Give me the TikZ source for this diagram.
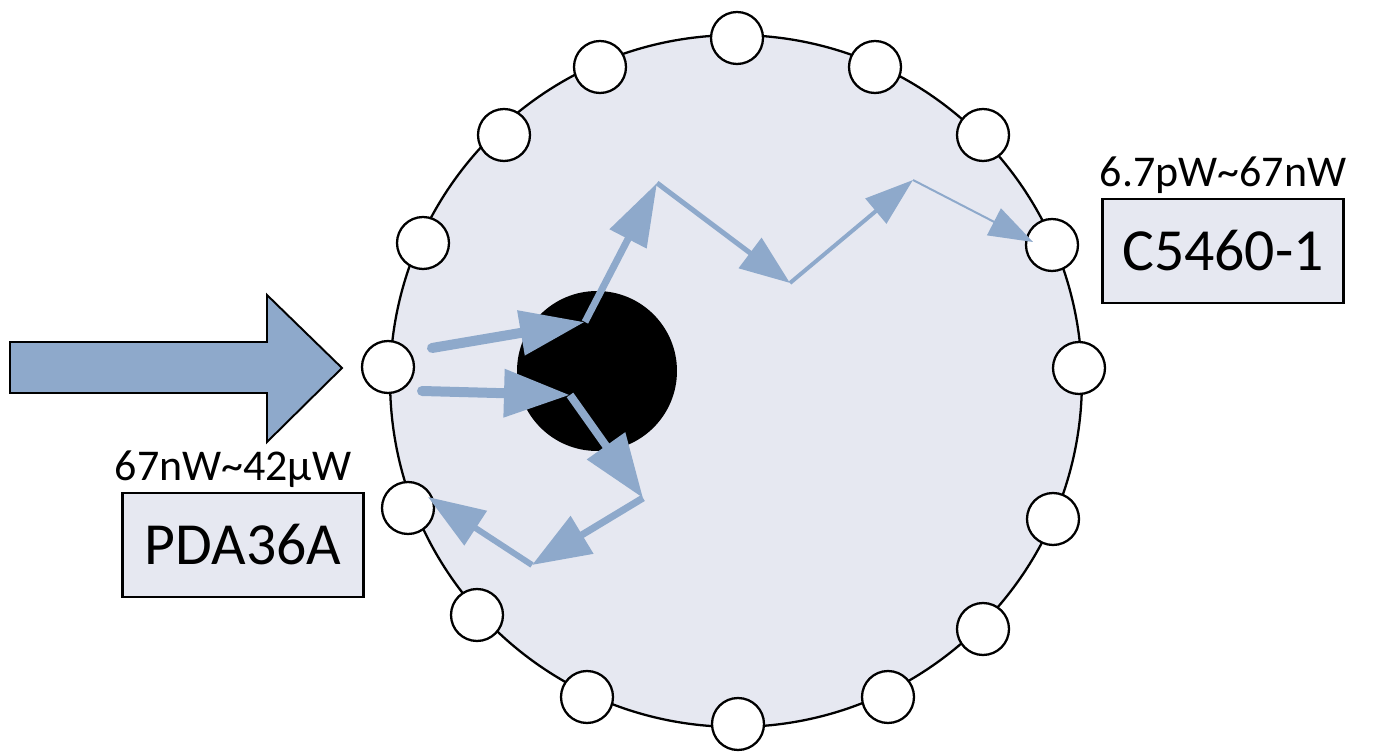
\documentclass[tikz,border=0pt]{standalone}
\usepackage{fontspec}
\setmainfont{Carlito}
\usetikzlibrary{positioning, arrows.meta}

\definecolor{lavender}{HTML}{E6E8F1}
\definecolor{rayblue}{HTML}{8EA9CB}

\begin{document}
\begin{tikzpicture}[x=0.02cm, y=-0.02cm,
        port/.style={draw, circle, fill=white, line width=1.3pt, minimum size=1.04cm, inner sep=0pt},
        devbox/.style={draw, rectangle, fill=lavender, line width=1.2pt, minimum width=4.82cm, minimum height=2.08cm, font=\fontsize{34}{40}\selectfont},
        lbl/.style={inner sep=0pt, font=\fontsize{25}{30}\selectfont},
        ray/.style n args={3}{draw=rayblue, line width=#1, -{Triangle[length=#2, width=#3]}}
    ]
    \useasboundingbox (0,0) rectangle (1373,756);

    % incoming beam
    \draw[fill=rayblue, line width=1.1pt] (10,342) -- (267,342) -- (267,295) -- (342,368)
        -- (267,442) -- (267,393) -- (10,393) -- cycle;

    \node[circle, draw, fill=lavender, line width=1.3pt, minimum size=13.84cm] (sphere) at (736,381) {};
    \foreach \px/\py [count=\i] in {388/367, 423/243, 504/135, 600/67, 737/38, 875/67, 983/135, 1052/245,
            1079/368, 1053/519, 983/629, 888/697, 738/724, 587/697, 477/615, 408/508}
        \node[port] (p\i) at (\px,\py) {};
    \node[circle, fill=black, minimum size=3.2cm] (core) at (597,371) {};

    \coordinate (a0) at (432,348);
    \coordinate (a1) at (585,322);
    \coordinate (a2) at (657,183);
    \coordinate (a3) at (790,283);
    \coordinate (a4) at (913,180);
    \coordinate (a5) at (1033,242);
    \coordinate (b0) at (422,391);
    \coordinate (b1) at (570,395);
    \coordinate (b2) at (643,498);
    \coordinate (b3) at (532,565);
    \coordinate (b4) at (428,497);

    \draw[ray={0.2cm}{1.3cm}{0.86cm}, line cap=round] (a0) -- (a1);
    \draw[ray={0.14cm}{1.26cm}{0.8cm}] (a1) -- (a2);
    \draw[ray={0.1cm}{1cm}{0.74cm}] (a2) -- (a3);
    \draw[ray={0.08cm}{0.97cm}{0.64cm}] (a3) -- (a4);
    \draw[ray={0.04cm}{0.88cm}{0.6cm}] (a4) -- (a5);
    \draw[ray={0.2cm}{1.32cm}{0.92cm}, line cap=round] (b0) -- (b1);
    \draw[ray={0.16cm}{1.28cm}{0.9cm}] (b1) -- (b2);
    \draw[ray={0.14cm}{1.17cm}{0.85cm}] (b2) -- (b3);
    \draw[ray={0.12cm}{1.14cm}{0.8cm}] (b3) -- (b4);

    \node[devbox] (pda) at (243,545) {PDA36A};
    \node[devbox] (pmt) at (1223,251) {C5460-1};
    \node[lbl, above=0.08cm of pda, xshift=-0.2cm] (pdarange) {67nW\textasciitilde42µW};
    \node[lbl, above=0.08cm of pmt] (pmtrange) {6.7pW\textasciitilde67nW};
\end{tikzpicture}
\end{document}
